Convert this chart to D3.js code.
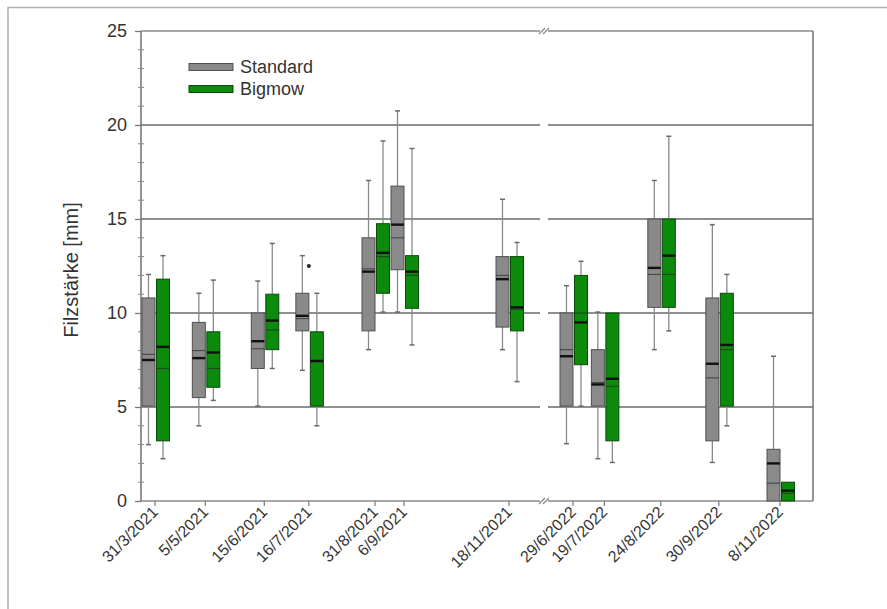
<!DOCTYPE html>
<html>
<head>
<meta charset="utf-8">
<script src="https://cdn.jsdelivr.net/npm/d3@7"></script>
<style>
    body { margin: 0; background: #fff; }
    svg { display: block; font-family: "Liberation Sans", Arial, sans-serif; }
</style>
</head>
<body>
<div id="container"></div>
<script>
"use strict"

// sampling dates (x categories) and their labels
const dates = ["2021-03-31", "2021-05-05", "2021-06-15", "2021-07-16", "2021-08-31", "2021-09-06",
               "2021-11-18", "2022-06-29", "2022-07-19", "2022-08-24", "2022-09-30", "2022-11-08"];
const dateLabels = ["31/3/2021", "5/5/2021", "15/6/2021", "16/7/2021", "31/8/2021", "6/9/2021",
                    "18/11/2021", "29/6/2022", "19/7/2022", "24/8/2022", "30/9/2022", "8/11/2022"];

// Standard (grey boxes)
const stdMin    = [3.0, 4.0, 5.05, 6.95, 8.05, 10.05, 8.05, 3.05, 2.25, 8.05, 2.05, 0.0];
const stdQ1     = [5.05, 5.5, 7.05, 9.05, 9.05, 12.3, 9.25, 5.05, 5.05, 10.3, 3.2, 0.0];
const stdMedian = [7.5, 7.6, 8.5, 9.85, 12.2, 14.7, 11.8, 7.7, 6.2, 12.4, 7.3, 2.0];
const stdMean   = [7.8, 8.0, 8.1, 9.7, 12.35, 14.0, 12.0, 8.05, 6.3, 12.05, 6.55, 0.95];
const stdQ3     = [10.8, 9.5, 10.0, 11.05, 14.0, 16.75, 13.0, 10.0, 8.05, 15.0, 10.8, 2.75];
const stdMax    = [12.05, 11.05, 11.7, 13.05, 17.05, 20.75, 16.05, 11.45, 10.05, 17.05, 14.7, 7.7];

// Bigmow (green boxes)
const bigMin    = [2.25, 5.35, 7.05, 4.0, 10.05, 8.3, 6.35, 5.05, 2.05, 9.05, 4.0, 0.0];
const bigQ1     = [3.2, 6.05, 8.05, 5.05, 11.05, 10.25, 9.05, 7.25, 3.2, 10.3, 5.05, 0.0];
const bigMedian = [8.2, 7.9, 9.6, 7.45, 13.2, 12.2, 10.3, 9.5, 6.5, 13.05, 8.3, 0.55];
const bigMean   = [7.05, 7.05, 9.1, 7.4, 13.0, 12.0, 10.2, 10.0, 6.1, 12.05, 8.05, 0.4];
const bigQ3     = [11.8, 9.0, 11.0, 9.0, 14.75, 13.05, 13.0, 12.0, 10.0, 15.0, 11.05, 1.0];
const bigMax    = [13.05, 11.75, 13.7, 11.05, 19.15, 18.75, 13.75, 12.75, 10.0, 19.4, 12.05, 1.0];

// outliers: [date index, series, value]
const outliers = [[3, "Standard", 12.5]];

const seriesNames = ["Standard", "Bigmow"];
const yTicks = [0, 5, 10, 15, 20, 25];
const yLabel = "Filzstärke [mm]";

const width = 887;
const height = 609;
const plotLeft = 141;
const plotRight = 813;
const plotTop = 31;
const plotBottom = 501;
const breakLeft = 540;
const breakRight = 548;
const boxWidth = 13;
const colors = { Standard: "#8a8a8a", Bigmow: "#0b8a0b" };
const strokes = { Standard: "#505050", Bigmow: "#0b4a0b" };
const offsets = { Standard: -6.5, Bigmow: 8 };

const parseDate = d3.timeParse("%Y-%m-%d");
let svg;
let y;
let x2021;
let x2022;


function Main()
{
    CreateSVG();
    CreateScales();
    DrawFrame();
    DrawGrid();
    DrawAxes();
    DrawBoxes();
    DrawLegend();
    document.getElementById("container").append(svg.node());
};


function CreateSVG()
{
    svg = d3.create("svg")
        .attr("width", width)
        .attr("height", height);
};


function CreateScales()
{
    y = d3.scaleLinear().domain([0, 25]).range([plotBottom, plotTop]);

    // two time segments with an axis break between them
    x2021 = d3.scaleTime()
        .domain(["2021-03-31", "2021-08-31", "2021-09-06", "2021-11-18"].map(parseDate))
        .range([155, 375, 404, 509]);
    x2022 = d3.scaleTime()
        .domain(["2022-06-29", "2022-11-08"].map(parseDate))
        .range([573, 780]);
};


function X(dateString)
{
    const d = parseDate(dateString);
    return d.getFullYear() == 2021 ? x2021(d) : x2022(d);
};


function DrawFrame()
{
    // light outer frame (top and left edge of the picture)
    svg.append("path")
        .attr("d", "M8,609 L8,7.5 L887,7.5")
        .attr("fill", "none")
        .attr("stroke", "#b0b0b0")
        .attr("stroke-width", 1.5);
};


function DrawGrid()
{
    const segments = [[plotLeft, breakLeft], [breakRight, plotRight]];
    const g = svg.append("g");

    [5, 10, 15, 20].forEach(v => {
        segments.forEach(s => {
            g.append("line")
                .attr("x1", s[0]).attr("x2", s[1])
                .attr("y1", y(v)).attr("y2", y(v))
                .attr("stroke", "#6a6a6a")
                .attr("stroke-width", 1.3);
        });
    });

    // top border and bottom axis, broken
    [25, 0].forEach(v => {
        segments.forEach(s => {
            g.append("line")
                .attr("x1", s[0]).attr("x2", s[1])
                .attr("y1", y(v)).attr("y2", y(v))
                .attr("stroke", "#8a8a8a")
                .attr("stroke-width", 1.6);
        });
    });

    // right border and left axis line
    g.append("line")
        .attr("x1", plotRight).attr("x2", plotRight)
        .attr("y1", y(25)).attr("y2", y(0))
        .attr("stroke", "#7a7a7a").attr("stroke-width", 1.6);
    g.append("line")
        .attr("x1", plotLeft).attr("x2", plotLeft)
        .attr("y1", y(25)).attr("y2", y(0))
        .attr("stroke", "#7a7a7a").attr("stroke-width", 1.6);

    // break marks
    const bx = (breakLeft + breakRight) / 2;
    [25, 0].forEach(v => {
        [-2, 2].forEach(dx => {
            g.append("line")
                .attr("x1", bx + dx - 3).attr("y1", y(v) + 3)
                .attr("x2", bx + dx + 3).attr("y2", y(v) - 3)
                .attr("stroke", "#888")
                .attr("stroke-width", 1.2);
        });
    });
};


function DrawAxes()
{
    // y axis: major ticks with labels
    const yAxis = svg.append("g")
        .attr("transform", `translate(${plotLeft},0)`)
        .call(d3.axisLeft(y).tickValues(yTicks).tickSize(6).tickPadding(8));
    yAxis.select(".domain").remove();
    yAxis.selectAll(".tick line").attr("stroke", "#777").attr("stroke-width", 1.3);
    yAxis.selectAll(".tick text")
        .attr("font-size", 18)
        .attr("font-family", "Liberation Sans, Arial, sans-serif")
        .attr("fill", "#333");

    // minor ticks crossing the axis
    svg.append("g")
        .selectAll("line")
        .data(d3.range(0, 26).filter(v => v % 5 != 0))
        .enter()
        .append("line")
        .attr("x1", plotLeft - 3).attr("x2", plotLeft + 3)
        .attr("y1", d => y(d)).attr("y2", d => y(d))
        .attr("stroke", "#888")
        .attr("stroke-width", 1);

    // y label
    svg.append("text")
        .attr("transform", `translate(78,${(plotTop + plotBottom) / 2 + 4}) rotate(-90)`)
        .attr("text-anchor", "middle")
        .attr("font-size", 20)
        .attr("fill", "#333")
        .text(yLabel);

    // x ticks and rotated date labels
    const xg = svg.append("g");
    xg.selectAll("line")
        .data(dates)
        .enter()
        .append("line")
        .attr("x1", d => X(d)).attr("x2", d => X(d))
        .attr("y1", plotBottom).attr("y2", plotBottom + 5)
        .attr("stroke", "#777")
        .attr("stroke-width", 1.2);

    xg.selectAll("text")
        .data(dates)
        .enter()
        .append("text")
        .attr("transform", d => `translate(${X(d) + 4},${plotBottom + 12}) rotate(-45)`)
        .attr("text-anchor", "end")
        .attr("font-size", 16)
        .attr("fill", "#333")
        .text((_, i) => dateLabels[i]);
};


function BoxStats(series)
{
    const src = series == "Standard"
        ? [stdMin, stdQ1, stdMedian, stdMean, stdQ3, stdMax]
        : [bigMin, bigQ1, bigMedian, bigMean, bigQ3, bigMax];
    return dates.map((d, i) => ({
        date: d,
        series: series,
        min: src[0][i], q1: src[1][i], median: src[2][i],
        mean: src[3][i], q3: src[4][i], max: src[5][i]
    }));
};


function DrawBoxes()
{
    seriesNames.forEach(series => {
        const data = BoxStats(series);
        const g = svg.append("g").attr("class", "series");
        const cx = d => X(d.date) + offsets[series];

        // whiskers
        g.selectAll(".whisker-up")
            .data(data.filter(d => d.max > d.q3))
            .enter()
            .append("line")
            .attr("x1", cx).attr("x2", cx)
            .attr("y1", d => y(d.max)).attr("y2", d => y(d.q3))
            .attr("stroke", "#8a8a8a").attr("stroke-width", 1.3);
        g.selectAll(".whisker-down")
            .data(data.filter(d => d.min < d.q1))
            .enter()
            .append("line")
            .attr("x1", cx).attr("x2", cx)
            .attr("y1", d => y(d.q1)).attr("y2", d => y(d.min))
            .attr("stroke", "#8a8a8a").attr("stroke-width", 1.3);

        // caps
        const caps = [];
        data.forEach(d => {
            if (d.max > d.q3) caps.push({ d: d, v: d.max });
            if (d.min < d.q1) caps.push({ d: d, v: d.min });
        });
        g.selectAll(".cap")
            .data(caps)
            .enter()
            .append("line")
            .attr("x1", c => cx(c.d) - 2.5).attr("x2", c => cx(c.d) + 2.5)
            .attr("y1", c => y(c.v)).attr("y2", c => y(c.v))
            .attr("stroke", "#6a6a6a").attr("stroke-width", 1.5);

        // boxes
        g.selectAll("rect")
            .data(data)
            .enter()
            .append("rect")
            .attr("x", d => cx(d) - boxWidth / 2)
            .attr("y", d => y(d.q3))
            .attr("width", boxWidth)
            .attr("height", d => y(d.q1) - y(d.q3))
            .attr("fill", colors[series])
            .attr("stroke", strokes[series])
            .attr("stroke-width", 1);

        // mean line (thin) and median line (thick)
        g.selectAll(".mean")
            .data(data)
            .enter()
            .append("line")
            .attr("x1", d => cx(d) - boxWidth / 2).attr("x2", d => cx(d) + boxWidth / 2)
            .attr("y1", d => y(d.mean)).attr("y2", d => y(d.mean))
            .attr("stroke", "#2a2a2a").attr("stroke-width", 1.1).attr("opacity", 0.7);
        g.selectAll(".median")
            .data(data)
            .enter()
            .append("line")
            .attr("x1", d => cx(d) - boxWidth / 2).attr("x2", d => cx(d) + boxWidth / 2)
            .attr("y1", d => y(d.median)).attr("y2", d => y(d.median))
            .attr("stroke", "#111").attr("stroke-width", 2.4);
    });

    // outliers
    svg.append("g")
        .selectAll("circle")
        .data(outliers)
        .enter()
        .append("circle")
        .attr("cx", d => X(dates[d[0]]))
        .attr("cy", d => y(d[2]))
        .attr("r", 2)
        .attr("fill", "#222");
};


function DrawLegend()
{
    const g = svg.append("g");
    seriesNames.forEach((name, i) => {
        const ly = 67 + i * 22;
        g.append("rect")
            .attr("x", 189).attr("y", ly - 3.5)
            .attr("width", 44).attr("height", 7)
            .attr("fill", colors[name])
            .attr("stroke", strokes[name]);
        g.append("text")
            .attr("x", 240).attr("y", ly + 6)
            .attr("font-size", 18)
            .attr("fill", "#333")
            .text(name);
    });
};


Main();
</script>
</body>
</html>
